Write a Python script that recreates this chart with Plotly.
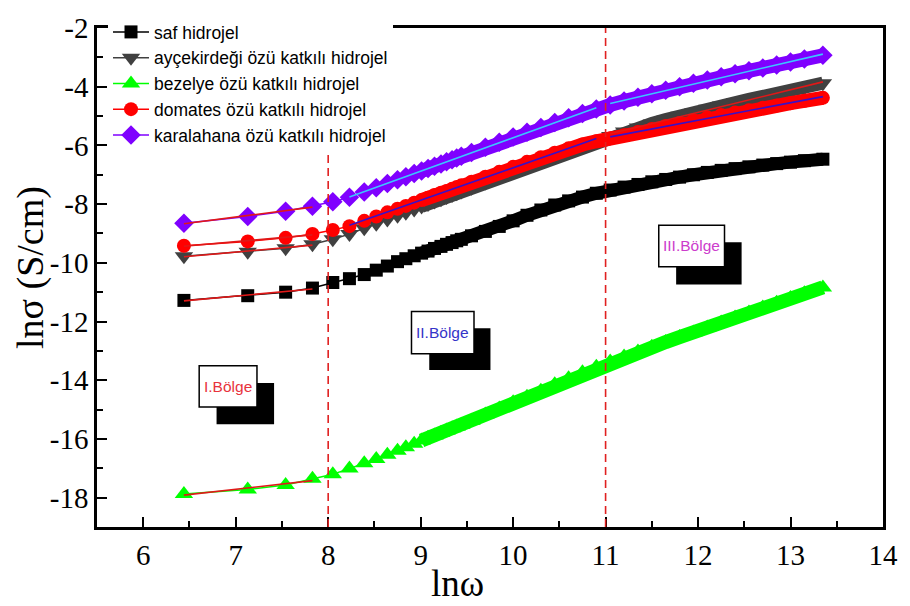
import numpy as np
import plotly.graph_objects as go

# ln(omega) grid shared by all samples
ln_w = [6.44, 7.13, 7.54, 7.83, 8.05, 8.23, 8.39, 8.52, 8.64, 8.75,
        8.84, 8.93, 9.01, 9.08, 9.15, 9.22, 9.28, 9.34, 9.39, 9.44,
        9.55, 9.70, 9.85, 10.0, 10.15, 10.3, 10.45, 10.6, 10.75, 10.9,
        11.05, 11.2, 11.35, 11.5, 11.65, 11.8, 11.95, 12.1, 12.25, 12.4,
        12.55, 12.7, 12.85, 13.0, 13.15, 13.35]

# ln(sigma) values, S/cm
saf = [-11.28, -11.12, -11.0, -10.86, -10.67, -10.54, -10.4, -10.25, -10.11, -9.96,
       -9.86, -9.76, -9.67, -9.6, -9.51, -9.44, -9.37, -9.31, -9.25, -9.2,
       -9.08, -8.93, -8.76, -8.57, -8.38, -8.2, -8.03, -7.89, -7.76, -7.63,
       -7.52, -7.42, -7.33, -7.24, -7.16, -7.08, -7.0, -6.92, -6.85, -6.79,
       -6.73, -6.67, -6.62, -6.57, -6.52, -6.47]
aycekirdegi = [-9.78, -9.62, -9.5, -9.37, -9.2, -9.02, -8.82, -8.67, -8.52, -8.4,
               -8.29, -8.18, -8.08, -8.0, -7.91, -7.83, -7.76, -7.69, -7.63, -7.57,
               -7.44, -7.26, -7.08, -6.9, -6.72, -6.54, -6.36, -6.18, -6.01, -5.84,
               -5.68, -5.53, -5.39, -5.25, -5.12, -4.99, -4.87, -4.75, -4.64, -4.53,
               -4.43, -4.33, -4.23, -4.13, -4.03, -3.88]
bezelye = [-17.88, -17.72, -17.57, -17.36, -17.2, -17.01, -16.83, -16.68, -16.54, -16.4,
           -16.28, -16.16, -16.05, -15.96, -15.88, -15.79, -15.71, -15.64, -15.58, -15.52,
           -15.38, -15.17, -14.96, -14.75, -14.56, -14.36, -14.14, -13.93, -13.73, -13.54,
           -13.36, -13.19, -13.02, -12.86, -12.70, -12.53, -12.37, -12.2, -12.03, -11.86,
           -11.69, -11.52, -11.36, -11.2, -11.04, -10.84]
domates = [-9.42, -9.27, -9.15, -9.02, -8.88, -8.75, -8.57, -8.42, -8.28, -8.16,
           -8.06, -7.95, -7.86, -7.78, -7.69, -7.61, -7.55, -7.48, -7.42, -7.36,
           -7.24, -7.07, -6.9, -6.73, -6.56, -6.4, -6.25, -6.1, -5.97, -5.86,
           -5.76, -5.65, -5.54, -5.44, -5.34, -5.24, -5.14, -5.05, -4.96, -4.88,
           -4.8, -4.72, -4.64, -4.56, -4.48, -4.38]
karalahana = [-8.65, -8.42, -8.24, -8.07, -7.92, -7.77, -7.59, -7.44, -7.3, -7.17,
              -7.07, -6.96, -6.87, -6.79, -6.71, -6.63, -6.56, -6.49, -6.43, -6.37,
              -6.24, -6.06, -5.89, -5.71, -5.55, -5.39, -5.22, -5.06, -4.91, -4.76,
              -4.62, -4.49, -4.36, -4.24, -4.12, -4.0, -3.88, -3.77, -3.66, -3.56,
              -3.46, -3.36, -3.26, -3.16, -3.06, -2.93]

series_names = ["saf hidrojel",
                "ayçekirdeği özü katkılı hidrojel",
                "bezelye özü katkılı hidrojel",
                "domates özü katkılı hidrojel",
                "karalahana özü katkılı hidrojel"]

x_ticks = [6, 7, 8, 9, 10, 11, 12, 13, 14]
x_ticktext = ["6", "7", "8", "9", "10", "11", "12", "13", "14"]
y_ticks = [-2, -4, -6, -8, -10, -12, -14, -16, -18]
y_ticktext = ["-2", "-4", "-6", "-8", "-10", "-12", "-14", "-16", "-18"]

region_labels = ["I.Bölge", "II.Bölge", "III.Bölge"]
boundaries = [8, 11]

# styling
values = [saf, aycekirdegi, bezelye, domates, karalahana]
colors = ["#000000", "#404040", "#00ff00", "#ff0000", "#7f00ff"]
symbols = ["square", "triangle-down", "triangle-up", "circle", "diamond"]
sizes = [13, 16, 16, 14, 15]
band_widths = [13, 13, 14, 14, 14]
DENSE_FROM = 12  # markers merge into a continuous band past this index

SERIF = "Times New Roman, Liberation Serif, serif"
SANS = "Arial, Liberation Sans, sans-serif"

fig = go.Figure()
x = np.array(ln_w)

for name, y, c, sym, sz, bw in zip(series_names, values, colors, symbols, sizes, band_widths):
    fig.add_trace(go.Scatter(
        x=x[DENSE_FROM:], y=np.array(y)[DENSE_FROM:], mode="lines",
        line=dict(color=c, width=bw), showlegend=False, hoverinfo="skip"))
    fig.add_trace(go.Scatter(
        x=x, y=y, name=name, mode="lines+markers",
        line=dict(color=c, width=1.5),
        marker=dict(symbol=sym, size=sz, color=c, line=dict(width=0))))


def fit_line(y, i0, i1, color):
    xs = x[i0:i1 + 1]
    ys = np.array(y)[i0:i1 + 1]
    k, b = np.polyfit(xs, ys, 1)
    fig.add_trace(go.Scatter(
        x=[xs[0], xs[-1]], y=[k * xs[0] + b, k * xs[-1] + b], mode="lines",
        line=dict(color=color, width=1.6), showlegend=False, hoverinfo="skip"))


# region I fits
for y in values:
    fit_line(y, 0, 3, "#e01818")
# region II fits
fit_line(domates, 5, 29, "#3a10c8")
fit_line(karalahana, 5, 29, "#3cc4ff")
# region III fits
fit_line(aycekirdegi, 30, 45, "#e01818")
fit_line(domates, 30, 45, "#3a10c8")
fit_line(karalahana, 30, 45, "#3cc4ff")

shapes = []
for b in boundaries:
    shapes.append(dict(type="line", xref="x", yref="y", x0=b, x1=b, y0=-19, y1=-2,
                       line=dict(color="#e02020", width=1.6, dash="8px,5px"),
                       layer="above"))

# region tag boxes: (label, text colour, box x0, x1, y0, y1, shadow x0, x1, y0, y1)
boxes = [
    (region_labels[0], "#e8323c", 6.605, 7.23, -13.51, -14.91, 6.793, 7.415, -14.09, -15.5),
    (region_labels[1], "#3434c8", 8.901, 9.577, -11.66, -13.10, 9.093, 9.755, -12.23, -13.65),
    (region_labels[2], "#cc3ccc", 11.575, 12.286, -8.716, -10.133, 11.763, 12.471, -9.303, -10.74),
]
annotations = []
for lab, col, bx0, bx1, by0, by1, sx0, sx1, sy0, sy1 in boxes:
    shapes.append(dict(type="rect", xref="x", yref="y", x0=sx0, x1=sx1, y0=sy0, y1=sy1,
                       fillcolor="black", line=dict(width=0), layer="above"))
    shapes.append(dict(type="rect", xref="x", yref="y", x0=bx0, x1=bx1, y0=by0, y1=by1,
                       fillcolor="white", line=dict(color="black", width=1.5), layer="above"))
    annotations.append(dict(x=(bx0 + bx1) / 2, y=(by0 + by1) / 2, xref="x", yref="y",
                            text=lab, showarrow=False,
                            font=dict(family=SANS, size=15.5, color=col)))

# axis titles
annotations.append(dict(text="lnσ (S/cm)", xref="paper", yref="paper", x=0, y=0.519,
                        xanchor="center", yanchor="middle",
                        xshift=-67, textangle=-90, showarrow=False,
                        font=dict(family=SERIF, size=38, color="black")))
annotations.append(dict(text="lnω", xref="paper", yref="paper", x=0.459, y=0,
                        xanchor="center", yanchor="middle",
                        yshift=-56, showarrow=False,
                        font=dict(family=SERIF, size=37, color="black")))

axis_common = dict(showline=True, linecolor="black", linewidth=2.5, mirror=True,
                   ticks="inside", ticklen=10, tickwidth=2, tickcolor="black",
                   showgrid=False, zeroline=False,
                   tickfont=dict(family=SERIF, size=29, color="black"))

fig.update_layout(
    width=910, height=606,
    margin=dict(l=97, r=16, t=16, b=79),
    paper_bgcolor="white", plot_bgcolor="white",
    xaxis=dict(range=[5.5, 14], tickmode="array", tickvals=x_ticks, ticktext=x_ticktext,
               minor=dict(tickmode="array", tickvals=[v + 0.5 for v in x_ticks[:-1]],
                          ticks="inside", ticklen=6, tickwidth=2, tickcolor="black"),
               **axis_common),
    yaxis=dict(range=[-19, -2], tickmode="array", tickvals=y_ticks, ticktext=y_ticktext,
               minor=dict(tickmode="array", tickvals=[v - 1 for v in y_ticks],
                          ticks="inside", ticklen=6, tickwidth=2, tickcolor="black"),
               **axis_common),
    legend=dict(x=0.014, y=1.028, xanchor="left", yanchor="top",
                bgcolor="white", borderwidth=0, itemwidth=36,
                font=dict(family=SANS, size=17.5, color="black"),
                tracegroupgap=0),
    shapes=shapes,
    annotations=annotations,
    showlegend=True,
)

fig.write_html("out.html")
